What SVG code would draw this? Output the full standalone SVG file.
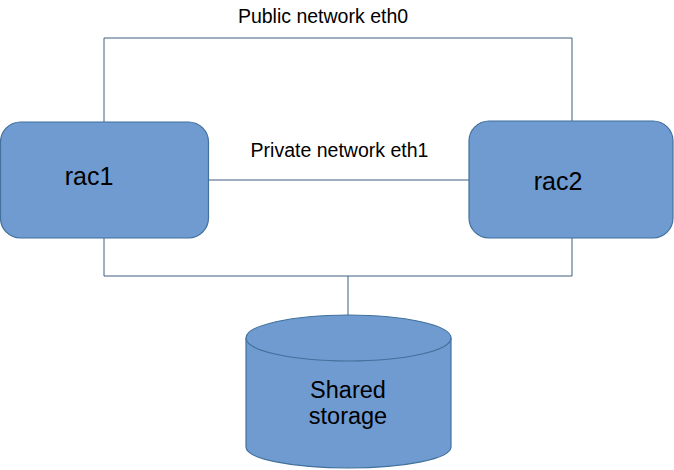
<svg xmlns="http://www.w3.org/2000/svg" width="674" height="470" viewBox="0 0 674 470">
<style>
.node{fill:#6f9bd0;stroke:#41719c;stroke-width:1.2}
.wire{fill:none;stroke:#3e5f80;stroke-width:1}
text{font-family:"Liberation Sans",Arial,sans-serif;fill:#000}
</style>
<rect width="674" height="470" fill="#fff"/>
<g id="connectors">
<polyline class="wire" points="104,122 104,38 572,38 572,121"/>
<line class="wire" x1="208" y1="180" x2="469" y2="180"/>
<polyline class="wire" points="104,238 104,276 572,276 572,238"/>
<line class="wire" x1="348" y1="276" x2="348" y2="315"/>
</g>
<g id="label-public"><text x="323" y="23" font-size="19.5" text-anchor="middle">Public network eth0</text></g>
<g id="label-private"><text x="339.5" y="157" font-size="19.5" text-anchor="middle">Private network eth1</text></g>
<g id="rac1">
<rect class="node" x="0.5" y="122" width="208" height="116" rx="20"/>
<text x="89" y="185" font-size="25" text-anchor="middle">rac1</text>
</g>
<g id="rac2">
<rect class="node" x="469" y="121" width="204" height="117" rx="20"/>
<text x="558" y="190" font-size="25" text-anchor="middle">rac2</text>
</g>
<g id="storage">
<path class="node" d="M246,338 L246,447 A102.5,21 0 0 0 451,447 L451,338 A102.5,23 0 0 0 246,338 Z"/>
<path class="node" d="M246,338 A102.5,23 0 0 0 451,338" fill="none"/>
<text x="348" y="398" font-size="23.5" text-anchor="middle">Shared</text>
<text x="348" y="424" font-size="23.5" text-anchor="middle">storage</text>
</g>
</svg>
